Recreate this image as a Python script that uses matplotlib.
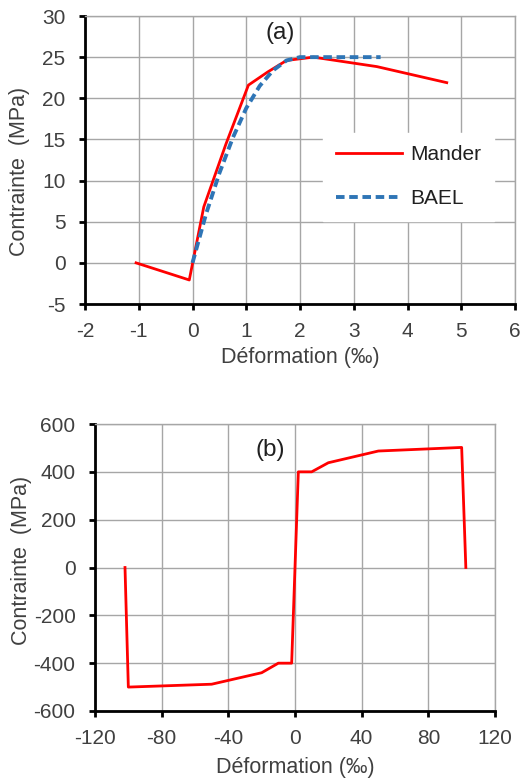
import matplotlib
matplotlib.use('Agg')
import matplotlib.pyplot as plt

plt.rcParams['font.family'] = ['Liberation Sans', 'DejaVu Sans']
plt.rcParams['axes.unicode_minus'] = False

# (a) concrete
mander_x = [-1.05, -0.06, 0.21, 0.62, 1.04, 1.4, 1.75, 2.25, 3.43, 4.73]
mander_y = [0.0, -2.08, 6.8, 14.4, 21.6, 23.2, 24.6, 25.0, 23.85, 21.9]
bael_x = [0.0, 0.25, 0.5, 0.75, 1.0, 1.25, 1.5, 1.75, 2.0, 2.5, 3.0, 3.5]
bael_y = [0.0, 5.9, 10.9, 15.2, 18.8, 21.5, 23.4, 24.6, 25.0, 25.0, 25.0, 25.0]

# (b) steel
steel_x = [-102, -100, -50, -20, -10, -2, 2, 10, 20, 50, 100, 102.5]
steel_y = [0, -500, -488, -440, -400, -400, 400, 400, 438, 487, 502, 0]

red = '#FF0000'
blue = '#2E75B6'
grid_c = '#A6A6A6'
txt_c = '#404040'
fs = 15

W, H = 521, 778
fig = plt.figure(figsize=(W / 100, H / 100), dpi=100)
# axes boxes in pixels (left, top, right, bottom)
ax1 = fig.add_axes([85 / W, 1 - 304 / H, 430 / W, 288 / H])
ax2 = fig.add_axes([95 / W, 1 - 711 / H, 400 / W, 287 / H])


def style(ax):
    ax.grid(True, color=grid_c, lw=1)
    ax.set_axisbelow(True)
    for s in ['top', 'right']:
        ax.spines[s].set_color(grid_c)
        ax.spines[s].set_linewidth(1)
    for s in ['left', 'bottom']:
        ax.spines[s].set_color('black')
        ax.spines[s].set_linewidth(2)
    ax.tick_params(direction='out', length=4, width=2, color='black',
                   labelsize=fs, labelcolor=txt_c)
    ax.tick_params(axis='x', pad=9)
    ax.tick_params(axis='y', pad=10)


ax1.plot(mander_x, mander_y, color=red, lw=2, label='Mander')
ax1.plot(bael_x, bael_y, color=blue, lw=2.8, ls=(0, (2.2, 1.2)), label='BAEL')
ax1.set_xlim(-2, 6)
ax1.set_ylim(-5, 30)
ax1.set_xticks(range(-2, 7))
ax1.set_yticks(range(-5, 31, 5))
style(ax1)
ax1.set_xlabel('Déformation (‰)', fontsize=15.5, color=txt_c)
ax1.set_ylabel('Contrainte  (MPa)', fontsize=15.5, color=txt_c)
ax1.xaxis.set_label_coords(0.5, -0.149)
ax1.yaxis.set_label_coords(-0.128, 0.46)
ax1.text((280 - 85) / 430, (304 - 33) / 288, '(a)', transform=ax1.transAxes,
         fontsize=17.5, color='#202020', ha='center', va='center')
leg = ax1.legend(loc='center left', bbox_to_anchor=((323 - 85) / 430, (304 - 177) / 288),
                 fontsize=fs, frameon=True, framealpha=1, edgecolor='white',
                 fancybox=False, handlelength=3.2, handletextpad=0.4,
                 labelspacing=1.2, borderpad=0.6, borderaxespad=0)
for t in leg.get_texts():
    t.set_color('#202020')

ax2.plot(steel_x, steel_y, color=red, lw=2)
ax2.set_xlim(-120, 120)
ax2.set_ylim(-600, 600)
ax2.set_xticks(range(-120, 121, 40))
ax2.set_yticks(range(-600, 601, 200))
style(ax2)
ax2.set_xlabel('Déformation (‰)', fontsize=15.5, color=txt_c)
ax2.set_ylabel('Contrainte  (MPa)', fontsize=15.5, color=txt_c)
ax2.xaxis.set_label_coords(0.5, -0.16)
ax2.yaxis.set_label_coords(-0.158, 0.526)
ax2.text((270 - 95) / 400, (711 - 450) / 287, '(b)', transform=ax2.transAxes,
         fontsize=17.5, color='#202020', ha='center', va='center')

fig.savefig('out.png', dpi=100)
